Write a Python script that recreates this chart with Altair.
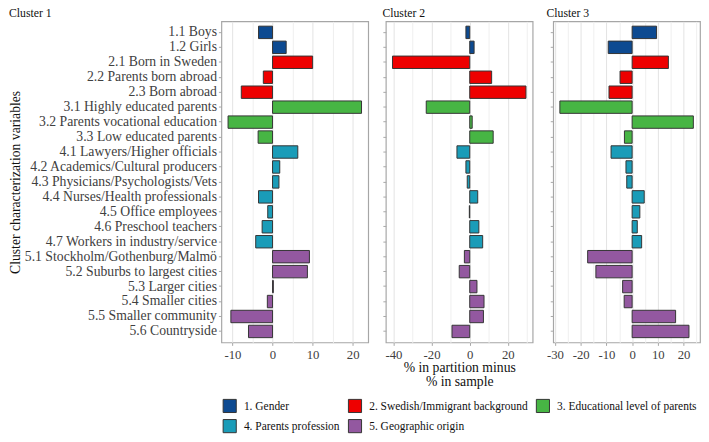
import altair as alt
import pandas as pd

variables = [
    "1.1 Boys", "1.2 Girls", "2.1 Born in Sweden", "2.2 Parents born abroad",
    "2.3 Born abroad", "3.1 Highly educated parents", "3.2 Parents vocational education",
    "3.3 Low educated parents", "4.1 Lawyers/Higher officials",
    "4.2 Academics/Cultural producers", "4.3 Physicians/Psychologists/Vets",
    "4.4 Nurses/Health professionals", "4.5 Office employees", "4.6 Preschool teachers",
    "4.7 Workers in industry/service", "5.1 Stockholm/Gothenburg/Malmö",
    "5.2 Suburbs to largest cities", "5.3 Larger cities", "5.4 Smaller cities",
    "5.5 Smaller community", "5.6 Countryside",
]
cluster1 = [-3.5, 3.4, 10.0, -2.3, -7.8, 22.2, -11.1, -3.6, 6.3, 1.8, 1.6, -3.5,
            -1.2, -2.6, -4.2, 9.2, 8.7, 0.2, -1.3, -10.4, -6.0]
cluster2 = [-2.0, 2.3, -40.5, 11.5, 29.5, -22.8, 1.3, 12.3, -6.7, -2.0, -1.3, 4.2,
            -0.2, 4.8, 6.8, -2.8, -5.5, 3.8, 7.5, 7.2, -9.3]
cluster3 = [9.5, -9.3, 14.1, -4.7, -9.0, -28.1, 23.8, -3.0, -8.2, -2.4, -2.1, 4.7,
            3.0, 2.0, 3.7, -17.3, -14.1, -3.7, -3.1, 16.9, 22.1]
groups = ["1. Gender", "2. Swedish/Immigrant background", "3. Educational level of parents",
          "4. Parents profession", "5. Geographic origin"]
colors = ["#0D4A91", "#EE0000", "#47B544", "#1A9CB8", "#9358A0"]

cluster_names = ["Cluster 1", "Cluster 2", "Cluster 3"]
cluster_values = [cluster1, cluster2, cluster3]
ticks_all = [list(range(-10, 25, 5)), list(range(-40, 40, 10)), list(range(-30, 30, 5))]
majors = [10, 20, 10]

FONT = "Liberation Serif"

def group_of(v):
    return groups[int(v[0]) - 1]

panels = []
for i, (name, vals) in enumerate(zip(cluster_names, cluster_values)):
    df = pd.DataFrame({"variable": variables, "value": vals,
                       "group": [group_of(v) for v in variables]})
    lo, hi = min(vals), max(vals)
    span = hi - lo
    dom = [lo - 0.05 * span, hi + 0.05 * span]
    m = majors[i]
    xaxis = alt.Axis(
        values=ticks_all[i],
        labelExpr=f"datum.value % {m} == 0 ? '' + datum.value : ''",
        gridColor={"condition": {"test": f"datum.value % {m} == 0", "value": "#E2E2E2"},
                   "value": "#EFEFEF"},
        tickColor={"condition": {"test": f"datum.value % {m} == 0", "value": "#A6A6A6"},
                   "value": "transparent"},
        tickSize=3, domain=False, labelFont=FONT, labelFontSize=13, labelColor="#404040",
        labelPadding=3,
        title=["% in partition minus", "% in sample"] if i == 1 else None,
        titleFont=FONT, titleFontSize=14, titleFontWeight="normal", titleColor="#111",
        titlePadding=0, titleLineHeight=14,
    )
    yaxis = alt.Axis(
        labels=(i == 0), ticks=True, tickSize=3, tickColor="#A6A6A6", domain=False,
        gridColor="#E2E2E2", bandPosition=0.5,
        labelFont=FONT, labelFontSize=14, labelColor="#404040", labelLimit=300,
        labelPadding=2,
        title="Cluster characterization variables" if i == 0 else None,
        titleFont=FONT, titleFontSize=14, titleFontWeight="normal", titleColor="#111",
        titlePadding=3,
    )
    ch = alt.Chart(df).mark_bar(stroke="#333333", strokeWidth=1).encode(
        x=alt.X("value:Q", scale=alt.Scale(domain=dom, nice=False, zero=False), axis=xaxis),
        y=alt.Y("variable:N", sort=variables,
                scale=alt.Scale(paddingInner=0.17, paddingOuter=0.32), axis=yaxis),
        color=alt.Color("group:N", scale=alt.Scale(domain=groups, range=colors),
                        legend=alt.Legend(
                            title=None, orient="none", legendX=1, legendY=385,
                            padding=0,
                            columns=3, symbolType="square", symbolSize=180,
                            symbolStrokeColor="#333333", symbolStrokeWidth=1,
                            labelFont=FONT, labelFontSize=11.7, labelColor="#111",
                            labelLimit=400, columnPadding=6, rowPadding=2, labelOffset=7,
                            direction="horizontal")),
    ).properties(
        width=150, height=328,
        title=alt.TitleParams(name, anchor="start", font=FONT, fontSize=12,
                              fontWeight="normal", color="#111", offset=1),
    )
    panels.append(ch)

chart = alt.hconcat(*panels, spacing=12).properties(
    padding={"top": -6, "left": 0, "right": 0, "bottom": 0}
).configure_view(
    stroke="#A6A6A6", strokeWidth=1.2
)

chart.save("out.html", embed_options={"renderer": "svg", "actions": False})
